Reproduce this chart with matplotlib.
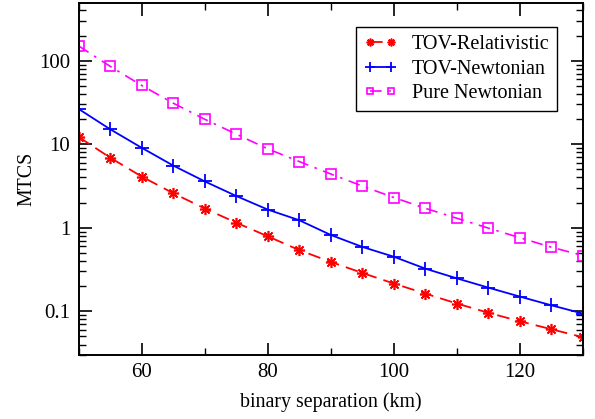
import matplotlib
matplotlib.use("Agg")
import matplotlib.pyplot as plt
from matplotlib.ticker import FixedLocator, FixedFormatter, LogLocator, NullFormatter, MultipleLocator

separation = [50, 55, 60, 65, 70, 75, 80, 85, 90, 95, 100, 105, 110, 115, 120, 125, 130]
tov_relativistic = [12.2, 6.9, 4.1, 2.59, 1.70, 1.15, 0.79, 0.54, 0.39, 0.288, 0.215,
                    0.163, 0.124, 0.096, 0.076, 0.061, 0.049]
tov_newtonian = [26.4, 15.1, 9.06, 5.55, 3.59, 2.4, 1.65, 1.23, 0.82, 0.59, 0.45,
                 0.324, 0.248, 0.192, 0.15, 0.118, 0.094]
pure_newtonian = [150, 85.5, 50.5, 31.0, 19.9, 13.2, 8.8, 6.2, 4.4, 3.16, 2.3,
                  1.71, 1.30, 0.99, 0.76, 0.585, 0.465]
series_labels = ["TOV-Relativistic", "TOV-Newtonian", "Pure Newtonian"]
y_ticks = [0.1, 1, 10, 100]
y_tick_labels = ["0.1", "1", "10", "100"]
x_ticks = [60, 80, 100, 120]

plt.rcParams['font.family'] = ['Liberation Serif', 'DejaVu Serif']
plt.rcParams['mathtext.fontset'] = 'stix'

fig = plt.figure(figsize=(5.95, 4.19), dpi=100)
ax = fig.add_axes([0.1323, 0.1527, 0.9798 - 0.1323, 0.9928 - 0.1527])

ax.plot(separation, tov_relativistic, color='#ff0000', lw=1.3, dashes=(7, 4),
        marker=(8, 2, 0), ms=8, mew=1.2, label=series_labels[0])
ax.plot(separation, tov_newtonian, color='#0000ff', lw=1.3, ls='-',
        marker='+', ms=10, mew=1.3, label=series_labels[1])
ax.plot(separation, pure_newtonian, color='#ff00ff', lw=1.2, dashes=(7, 4, 1.5, 4),
        marker='s', ms=7, mew=1.2, mfc='none', label=series_labels[2])

ax.set_yscale('log')
ax.set_xlim(50, 130)
ax.set_ylim(0.03, 490)

ax.xaxis.set_major_locator(FixedLocator(x_ticks))
ax.xaxis.set_minor_locator(MultipleLocator(10))
ax.yaxis.set_major_locator(FixedLocator(y_ticks))
ax.yaxis.set_major_formatter(FixedFormatter(y_tick_labels))
ax.yaxis.set_minor_locator(LogLocator(base=10, subs=range(2, 10)))
ax.yaxis.set_minor_formatter(NullFormatter())

ax.tick_params(which='both', direction='in', top=True, right=True, labelsize=15, pad=6)
ax.tick_params(which='major', length=9, width=1.2)
ax.tick_params(which='minor', length=5, width=1.0)
for s in ax.spines.values():
    s.set_linewidth(1.4)

ax.set_xlabel("binary separation (km)", fontsize=14.3, labelpad=7)
ax.set_ylabel("MTCS", fontsize=14.3, labelpad=2)

leg = ax.legend(loc='upper right', bbox_to_anchor=(0.949, 0.931), borderaxespad=0,
                fontsize=14.5, frameon=True, fancybox=False, edgecolor='black',
                framealpha=1, numpoints=2, markerscale=0.7,
                handlelength=1.65, borderpad=0.4, labelspacing=0.25, handletextpad=0.7)
leg.get_frame().set_linewidth(1.0)

fig.savefig("out.png", dpi=100)
